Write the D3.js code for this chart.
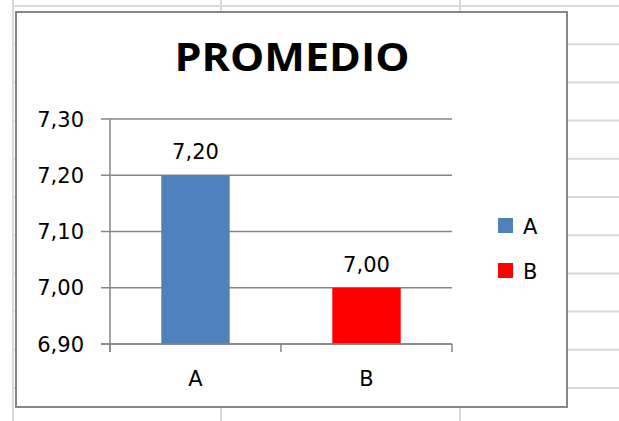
<!DOCTYPE html>
<html>
<head>
<meta charset="utf-8">
<script src="https://cdn.jsdelivr.net/npm/d3@7/dist/d3.min.js"></script>
<style>
  html, body { margin: 0; padding: 0; background: #fff; }
  svg { display: block; }
</style>
</head>
<body>
<svg id="chart" width="619" height="421"></svg>
<script>
// Chart data
const categories = ["A", "B"];
const values = [7.20, 7.00];
const colors = ["#4f81bd", "#ff0000"];
const yTicks = [6.90, 7.00, 7.10, 7.20, 7.30];
const title = "PROMEDIO";

const W = 619, H = 421;
const svg = d3.select("#chart");
const fmt = d3.formatLocale({ decimal: ",", thousands: ".", grouping: [3], currency: ["", ""] }).format(".2f");
const FONT = "'DejaVu Sans', Verdana, sans-serif";
const FS = 21;

// Worksheet cell grid behind the chart object
const sheet = svg.append("g").attr("stroke", "#d9d9d9").attr("stroke-width", 2);
const colX = [13, 221, 460];
colX.forEach(x => sheet.append("line").attr("x1", x).attr("x2", x).attr("y1", 0).attr("y2", H));
for (let y = 6; y < H; y += 38.2) {
  sheet.append("line").attr("x1", 13).attr("x2", W).attr("y1", y).attr("y2", y);
}

// Chart frame
svg.append("rect")
  .attr("x", 16).attr("y", 12).attr("width", 551).attr("height", 395)
  .attr("fill", "#fff").attr("stroke", "#868686").attr("stroke-width", 2);

// Title
svg.append("text")
  .attr("x", 292).attr("y", 71)
  .attr("text-anchor", "middle")
  .attr("font-family", "'Open Sans', 'Noto Sans', sans-serif")
  .attr("font-weight", "bold")
  .attr("font-size", 39)
  .attr("textLength", 235).attr("lengthAdjust", "spacingAndGlyphs")
  .attr("fill", "#000")
  .text(title);

// Plot area
const plot = { left: 110, right: 452, top: 119, bottom: 344 };
const x = d3.scaleBand().domain(categories).range([plot.left, plot.right]).padding(0);
const y = d3.scaleLinear().domain([6.90, 7.30]).range([plot.bottom, plot.top]);
const axisColor = "#868686";

// Horizontal gridlines with left ticks
svg.append("g").selectAll("line").data(yTicks).join("line")
  .attr("x1", plot.left - 9).attr("x2", plot.right)
  .attr("y1", d => y(d)).attr("y2", d => y(d))
  .attr("stroke", axisColor).attr("stroke-width", 1.5);

// Y tick labels
svg.append("g").selectAll("text").data(yTicks).join("text")
  .attr("x", 84).attr("y", d => y(d) + 7.5)
  .attr("text-anchor", "end")
  .attr("font-family", FONT).attr("font-size", FS).attr("fill", "#000")
  .text(d => fmt(d));

// Bars (gap width 150%)
const barW = x.bandwidth() * 0.4;
svg.append("g").selectAll("rect").data(values).join("rect")
  .attr("x", (d, i) => x(categories[i]) + (x.bandwidth() - barW) / 2)
  .attr("width", barW)
  .attr("y", d => y(d))
  .attr("height", d => y(6.90) - y(d))
  .attr("fill", (d, i) => colors[i]);

// Value labels
svg.append("g").selectAll("text").data(values).join("text")
  .attr("x", (d, i) => x(categories[i]) + x.bandwidth() / 2)
  .attr("y", d => y(d) - 16)
  .attr("text-anchor", "middle")
  .attr("font-family", FONT).attr("font-size", FS).attr("fill", "#000")
  .text(d => fmt(d));

// Axis lines
svg.append("line")
  .attr("x1", plot.left).attr("x2", plot.left)
  .attr("y1", plot.top).attr("y2", plot.bottom + 8)
  .attr("stroke", axisColor).attr("stroke-width", 1.5);
svg.append("line")
  .attr("x1", plot.left - 9).attr("x2", plot.right)
  .attr("y1", plot.bottom).attr("y2", plot.bottom)
  .attr("stroke", axisColor).attr("stroke-width", 1.5);

// Category boundary ticks
const bounds = categories.map(c => x(c)).concat([plot.right]);
svg.append("g").selectAll("line").data(bounds).join("line")
  .attr("x1", d => d).attr("x2", d => d)
  .attr("y1", plot.bottom).attr("y2", plot.bottom + 8)
  .attr("stroke", axisColor).attr("stroke-width", 1.5);

// Category labels
svg.append("g").selectAll("text").data(categories).join("text")
  .attr("x", d => x(d) + x.bandwidth() / 2)
  .attr("y", 386)
  .attr("text-anchor", "middle")
  .attr("font-family", FONT).attr("font-size", FS).attr("fill", "#000")
  .text(d => d);

// Legend
const legend = svg.append("g").selectAll("g").data(categories).join("g")
  .attr("transform", (d, i) => `translate(498, ${218 + i * 45})`);
legend.append("rect").attr("width", 15).attr("height", 15)
  .attr("fill", (d, i) => colors[i]);
legend.append("text")
  .attr("x", 25).attr("y", 16)
  .attr("font-family", FONT).attr("font-size", FS).attr("fill", "#000")
  .text(d => d);
</script>
</body>
</html>
